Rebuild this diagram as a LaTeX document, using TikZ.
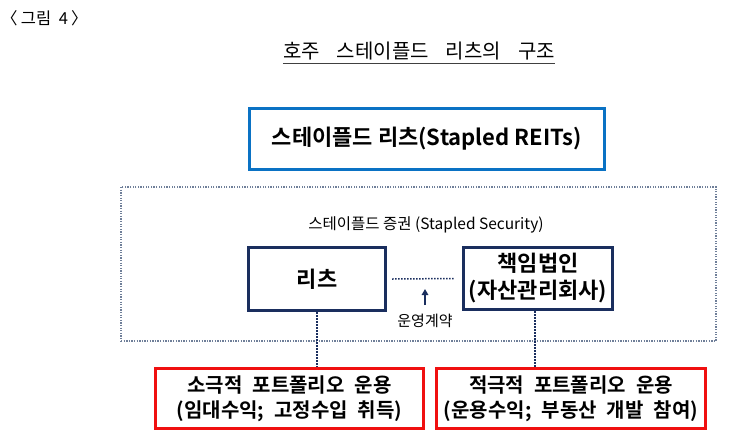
\documentclass[tikz,border=0pt]{standalone}
\usepackage{fontspec}
\setmainfont{Noto Sans CJK KR}[BoldFont={Noto Sans CJK KR Bold}]
\usetikzlibrary{arrows.meta}
\definecolor{reitblue}{HTML}{0A72C4}
\definecolor{navy}{HTML}{1A2E5E}
\definecolor{boxred}{HTML}{F01010}
\definecolor{dotgray}{HTML}{6F7F99}
\newcommand\mywidesp{\spaceskip=0.5em\relax}
\tikzset{
  bluebox/.style={draw=reitblue, line width=3.2pt, minimum width=355pt, minimum height=61pt, inner sep=0pt, font=\bfseries\fontsize{22}{26}\selectfont},
  navybox/.style={draw=navy, line width=3.2pt, inner sep=0pt, align=center, font=\bfseries\fontsize{22}{27}\selectfont},
  redbox/.style={draw=boxred, line width=3.2pt, minimum width=268pt, minimum height=60pt, inner sep=0pt, align=center, font=\bfseries\fontsize{20}{25}\selectfont\mywidesp},
  outerbox/.style={draw=dotgray, line width=1.3pt, dash pattern=on 1.3pt off 1.3pt, minimum width=595pt, minimum height=154pt, inner sep=0pt},
  conn/.style={draw=navy, line width=1.5pt, dash pattern=on 1.5pt off 1.5pt},
  plain/.style={inner sep=0pt, font=\fontsize{15.5}{18}\selectfont}
}
\begin{document}
\begin{tikzpicture}[x=1pt,y=-1pt]
\useasboundingbox (0,0) rectangle (743,445);
\fill[white] (0,0) rectangle (743,445);
\node[inner sep=0pt, anchor=west, font=\fontsize{16.5}{18}\selectfont] (fig) at (1,18) {〈\hspace{0.2em}그림\hspace{0.45em}4\hspace{0.2em}〉};
\node[inner sep=0pt, font=\fontsize{20}{22}\selectfont] (title) at (419,51) {호주\hspace{0.85em}스테이플드\hspace{0.85em}리츠의\hspace{0.85em}구조};
\draw[line width=1pt, black!75] ([yshift=-3.5pt]title.south west) -- ([yshift=-3.5pt]title.south east);
\node[bluebox] (stapled) at (427,139) {스테이플드 리츠(Stapled REITs)};
\node[outerbox] (sec) at (418.5,264) {};
\node[plain] (seclabel) at (426,225) {스테이플드 증권 (Stapled Security)};
\node[navybox, minimum width=137pt, minimum height=63pt] (reit) at (317,279) {리츠};
\node[navybox, minimum width=149pt, minimum height=62pt] (amc) at (538,278.5) {책임법인\\(자산관리회사)};
\node[inner sep=0pt, font=\fontsize{15}{17}\selectfont] (contract) at (425,321) {운영계약};
\node[redbox] (passive) at (289.5,398.5) {소극적 포트폴리오 운용\\(임대수익; 고정수입 취득)};
\node[redbox, minimum width=269pt] (active) at (571,398.5) {적극적 포트폴리오 운용\\(운용수익; 부동산 개발 참여)};
\draw[conn] ([xshift=5pt]reit.east) -- ([xshift=-8pt]amc.west);
\draw[navy, line width=2pt, -{Triangle[length=6pt,width=6.5pt]}] ([yshift=9pt]contract.north) -- ++(0,-16);
\draw[conn] (reit.south) -- (reit.south |- passive.north);
\draw[conn] ([xshift=-3pt]amc.south) -- ([xshift=-3pt]amc.south |- active.north);
\end{tikzpicture}
\end{document}
